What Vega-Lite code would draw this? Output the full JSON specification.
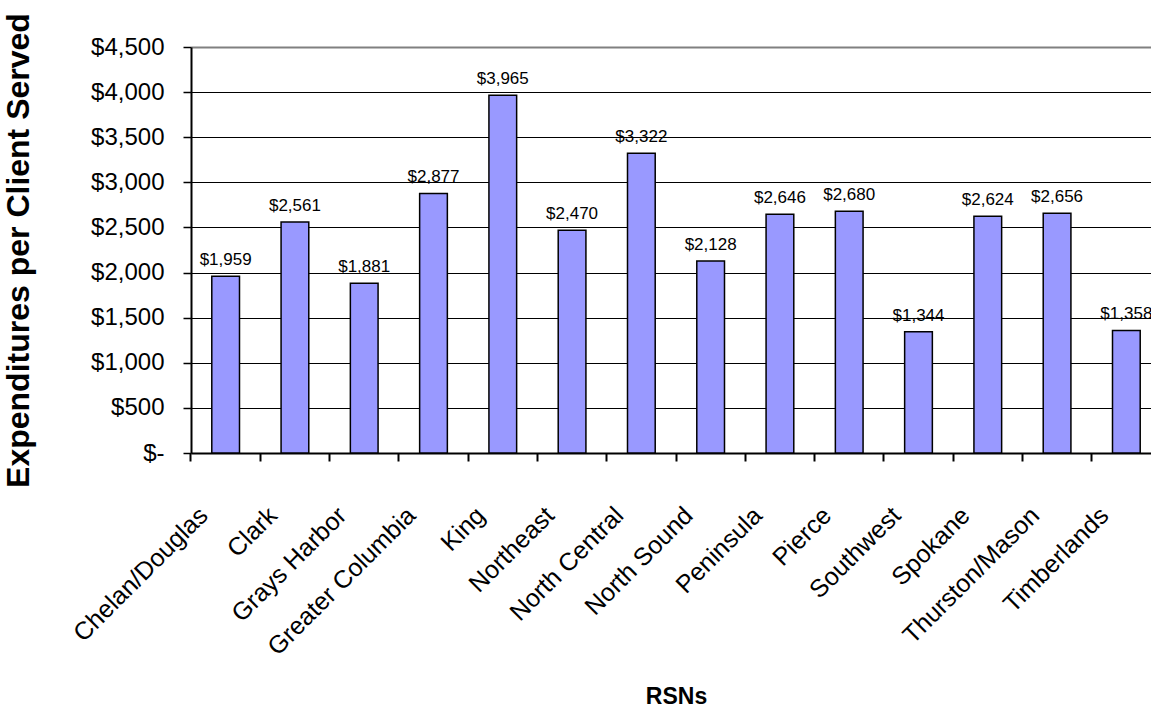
{
  "$schema": "https://vega.github.io/schema/vega-lite/v6.json",
  "autosize": "none",
  "width": 970,
  "height": 406,
  "padding": {"left": 191, "top": 47, "right": 0, "bottom": 254},
  "background": "white",
  "config": {
    "view": {"stroke": null},
    "font": "Liberation Sans"
  },
  "data": {
    "values": [
      {"rsn": "Chelan/Douglas", "value": 1959},
      {"rsn": "Clark", "value": 2561},
      {"rsn": "Grays Harbor", "value": 1881},
      {"rsn": "Greater Columbia", "value": 2877},
      {"rsn": "King", "value": 3965},
      {"rsn": "Northeast", "value": 2470},
      {"rsn": "North Central", "value": 3322},
      {"rsn": "North Sound", "value": 2128},
      {"rsn": "Peninsula", "value": 2646},
      {"rsn": "Pierce", "value": 2680},
      {"rsn": "Southwest", "value": 1344},
      {"rsn": "Spokane", "value": 2624},
      {"rsn": "Thurston/Mason", "value": 2656},
      {"rsn": "Timberlands", "value": 1358}
    ]
  },
  "encoding": {
    "x": {
      "field": "rsn",
      "type": "nominal",
      "sort": null,
      "scale": {"paddingInner": 0, "paddingOuter": 0},
      "axis": {
        "title": "RSNs",
        "titleFont": "Liberation Sans",
        "titleFontSize": 23,
        "titleFontWeight": "bold",
        "titleColor": "black",
        "titleBaseline": "alphabetic",
        "titleY": 250,
        "bandPosition": 0,
        "labelAngle": -45,
        "labelAlign": "right",
        "labelBaseline": "middle",
        "labelFontSize": 25,
        "labelColor": "black",
        "labelOffset": -22,
        "labelPadding": 50,
        "labelLimit": 0,
        "labelOverlap": false,
        "labelBound": false,
        "domainColor": "black",
        "domainWidth": 2,
        "tickColor": "black",
        "tickWidth": 2,
        "tickSize": 8,
        "grid": false
      }
    },
    "y": {
      "field": "value",
      "type": "quantitative",
      "scale": {"domain": [0, 4500], "nice": false},
      "axis": {
        "title": "Expenditures per Client Served",
        "titleFont": "Liberation Sans",
        "titleFontSize": 32,
        "titleFontWeight": "bold",
        "titleColor": "black",
        "titlePadding": 55,
        "values": [0, 500, 1000, 1500, 2000, 2500, 3000, 3500, 4000, 4500],
        "labelExpr": "datum.value === 0 ? '$-' : '$' + format(datum.value, ',')",
        "labelFontSize": 24,
        "labelColor": "black",
        "labelPadding": 19,
        "tickSize": 8,
        "tickColor": "black",
        "tickWidth": 1.5,
        "domainColor": "black",
        "domainWidth": 2,
        "grid": true,
        "gridColor": {"condition": {"test": "datum.value === 4500", "value": "#808080"}, "value": "black"},
        "gridWidth": {"condition": {"test": "datum.value === 4500", "value": 2}, "value": 1},
        "gridOpacity": 1
      }
    }
  },
  "layer": [
    {
      "mark": {"type": "bar", "width": {"band": 0.4}, "fill": "#9999FF", "stroke": "black", "strokeWidth": 1.5}
    },
    {
      "mark": {"type": "text", "baseline": "alphabetic", "dy": -11, "fontSize": 17, "color": "black", "font": "Liberation Sans"},
      "encoding": {
        "text": {"field": "value", "type": "quantitative", "format": "$,"}
      }
    }
  ]
}
